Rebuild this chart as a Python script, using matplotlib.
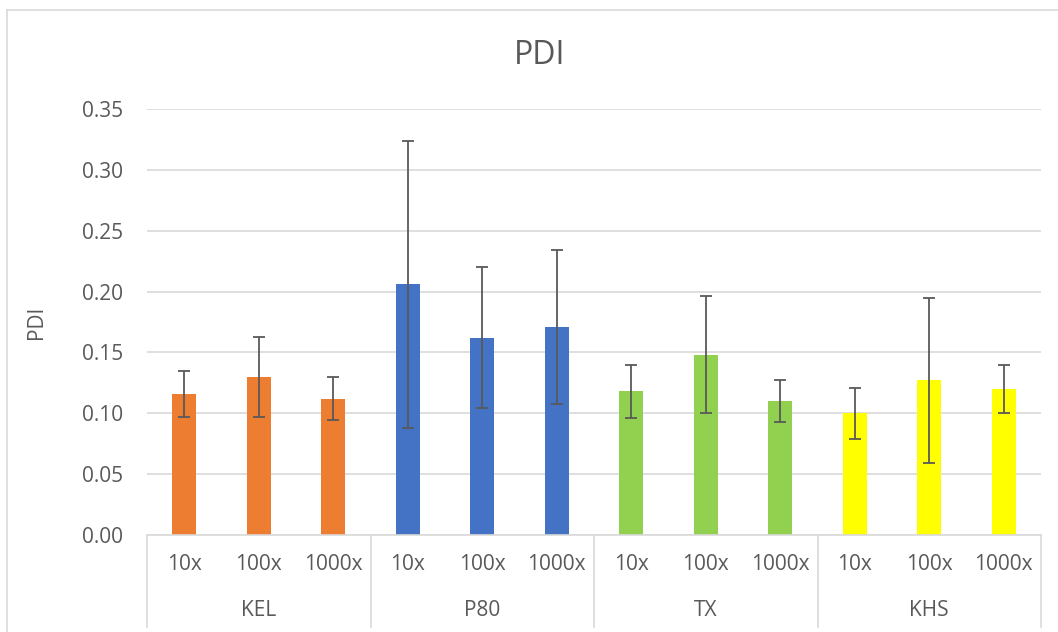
#!/usr/bin/env python3
"""PDI bar chart with error bars, grouped by surfactant and dilution."""

import matplotlib

matplotlib.use('Agg')
import matplotlib.pyplot as plt
import matplotlib.transforms as mtransforms
import numpy as np

# Data
groups = ['KEL', 'P80', 'TX', 'KHS']
dilutions = ['10x', '100x', '1000x']
pdi_kel = [0.116, 0.130, 0.112]
pdi_p80 = [0.206, 0.162, 0.171]
pdi_tx = [0.118, 0.148, 0.110]
pdi_khs = [0.100, 0.127, 0.120]
err_kel = [0.019, 0.033, 0.0175]
err_p80 = [0.118, 0.058, 0.063]
err_tx = [0.022, 0.048, 0.0175]
err_khs = [0.021, 0.068, 0.020]
colors = ['#ED7D31', '#4472C4', '#92D050', '#FFFF00']

text_color = '#595959'
grid_color = '#D9D9D9'

plt.rcParams['font.family'] = ['Open Sans', 'DejaVu Sans']


def main():
    fig = plt.figure(figsize=(10.58, 6.32), dpi=100)
    ax = fig.add_axes([147 / 1058, 1 - 535 / 632, (1041 - 147) / 1058, (535 - 109) / 632])

    values = [pdi_kel, pdi_p80, pdi_tx, pdi_khs]
    errors = [err_kel, err_p80, err_tx, err_khs]
    n = len(dilutions)

    for gi, (vals, errs, col) in enumerate(zip(values, errors, colors)):
        x = np.arange(n) + gi * n
        ax.bar(x, vals, width=0.32, color=col, zorder=2)
        ax.errorbar(x, vals, yerr=errs, fmt='none', ecolor=text_color,
                    elinewidth=1.3, capsize=4.5, capthick=1.3, zorder=3)

    total = n * len(groups)
    ax.set_xlim(-0.5, total - 0.5)
    ax.set_ylim(0, 0.35)
    ax.set_yticks(np.arange(0, 0.351, 0.05))
    ax.set_yticklabels([f'{v:.2f}' for v in np.arange(0, 0.351, 0.05)])
    ax.yaxis.grid(True, color=grid_color, linewidth=1.2, zorder=0)
    ax.set_axisbelow(True)
    ax.tick_params(axis='y', length=0, pad=17, labelsize=15, labelcolor=text_color)
    ax.set_xticks([])

    for side in ['top', 'right', 'left']:
        ax.spines[side].set_visible(False)
    ax.spines['bottom'].set_color(grid_color)
    ax.spines['bottom'].set_linewidth(1.2)

    # Multi-level category axis
    trans = mtransforms.blended_transform_factory(ax.transData, ax.transAxes)
    for i in range(total):
        ax.annotate(dilutions[i % n], xy=(i, 0), xycoords=trans,
                    xytext=(0, -21.6), textcoords='offset points',
                    ha='center', va='center', fontsize=15, color=text_color)
    for gi, name in enumerate(groups):
        ax.annotate(name, xy=(gi * n + (n - 1) / 2, 0), xycoords=trans,
                    xytext=(0, -54), textcoords='offset points',
                    ha='center', va='center', fontsize=15, color=text_color)
    bottom = -(627 - 535) / (535 - 109)
    for b in np.arange(len(groups) + 1) * n - 0.5:
        ax.plot([b, b], [0, bottom], transform=trans, color=grid_color,
                linewidth=1.2, clip_on=False)

    fig.text(37 / 1058, 1 - 322 / 632, 'PDI', rotation=90, ha='center',
             va='center', fontsize=15, color=text_color)
    fig.text(540 / 1058, 1 - 55 / 632, 'PDI', ha='center',
             va='center', fontsize=23, color=text_color)

    # Chart border (only top and left edges are visible in the frame)
    fig.add_artist(plt.Line2D([7 / 1058, 7 / 1058], [0, 1 - 10 / 632],
                              color=grid_color, linewidth=1.2))
    fig.add_artist(plt.Line2D([7 / 1058, 1], [1 - 10 / 632, 1 - 10 / 632],
                              color=grid_color, linewidth=1.2))

    fig.savefig('out.png', dpi=100)
    plt.close(fig)


if __name__ == '__main__':
    main()
